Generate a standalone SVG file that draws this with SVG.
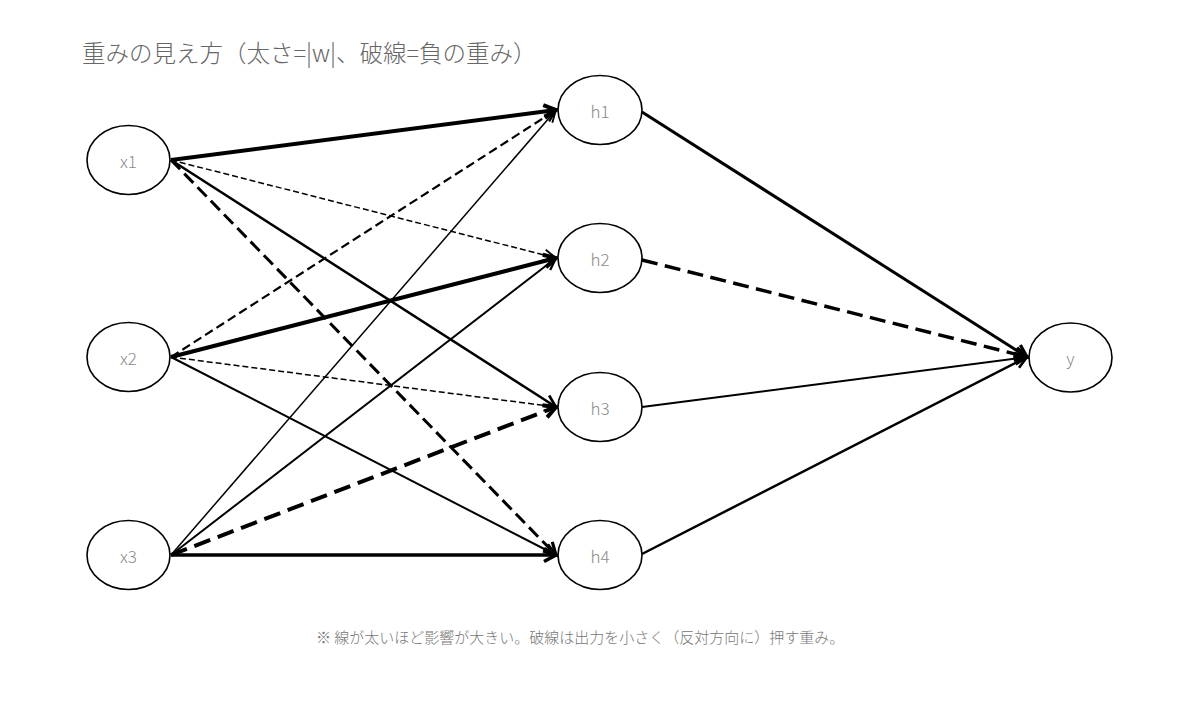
<svg xmlns="http://www.w3.org/2000/svg" width="1200" height="716" viewBox="0 0 1200 716">
<style>
.node ellipse{fill:#fff;stroke:#000;stroke-width:1.6}
.node text{font-family:"Noto Sans CJK JP","Noto Sans",sans-serif;font-weight:300;font-size:17px;fill:#8a8a8a;text-anchor:middle;dominant-baseline:central}
.e{fill:none;stroke:#000;stroke-linecap:butt}
.title{font-family:"Noto Sans CJK JP","Noto Sans",sans-serif;font-weight:300;font-size:23.5px;fill:#666}
.note{font-family:"Noto Sans CJK JP","Noto Sans",sans-serif;font-weight:300;font-size:15px;fill:#777}
</style>
<defs>
<marker id="a15" viewBox="-14 -8 16 16" refX="0" refY="0" markerWidth="16" markerHeight="16" markerUnits="userSpaceOnUse" orient="auto" overflow="visible"><path d="M-12,-5.5 L0,0 L-12,5.5" fill="none" stroke="#000" stroke-width="1.8"/></marker>
<marker id="a2" viewBox="-14 -8 16 16" refX="0" refY="0" markerWidth="16" markerHeight="16" markerUnits="userSpaceOnUse" orient="auto" overflow="visible"><path d="M-12,-6 L0,0 L-12,6" fill="none" stroke="#000" stroke-width="2.3"/></marker>
<marker id="a25" viewBox="-14 -8 16 16" refX="0" refY="0" markerWidth="16" markerHeight="16" markerUnits="userSpaceOnUse" orient="auto" overflow="visible"><path d="M-12,-6 L0,0 L-12,6" fill="none" stroke="#000" stroke-width="2.7"/></marker>
<marker id="a3" viewBox="-14 -8 16 16" refX="0" refY="0" markerWidth="16" markerHeight="16" markerUnits="userSpaceOnUse" orient="auto" overflow="visible"><path d="M-12,-6.5 L0,0 L-12,6.5" fill="none" stroke="#000" stroke-width="3.2"/></marker>
<marker id="a35" viewBox="-14 -8 16 16" refX="0" refY="0" markerWidth="16" markerHeight="16" markerUnits="userSpaceOnUse" orient="auto" overflow="visible"><path d="M-12,-6.5 L0,0 L-12,6.5" fill="none" stroke="#000" stroke-width="3.6"/></marker>
<marker id="a4" viewBox="-14 -8 16 16" refX="0" refY="0" markerWidth="16" markerHeight="16" markerUnits="userSpaceOnUse" orient="auto" overflow="visible"><path d="M-12,-6.5 L0,0 L-12,6.5" fill="none" stroke="#000" stroke-width="4"/></marker>
</defs>
<rect width="1200" height="716" fill="#fff"/>
<text class="title" x="82" y="62">重みの見え方（太さ=|w|、破線=負の重み）</text>
<g id="connectors">
<line class="e" x1="171" y1="160" x2="556" y2="110" stroke-width="4" marker-end="url(#a4)"/>
<line class="e" x1="171" y1="160" x2="556" y2="258" stroke-width="1.5" stroke-dasharray="6 3" marker-end="url(#a15)"/>
<line class="e" x1="171" y1="160" x2="556" y2="407" stroke-width="2.5" marker-end="url(#a25)"/>
<line class="e" x1="171" y1="160" x2="556" y2="555" stroke-width="3" stroke-dasharray="13 6" marker-end="url(#a3)"/>
<line class="e" x1="171" y1="357" x2="556" y2="110" stroke-width="2.2" stroke-dasharray="9 4.5" marker-end="url(#a2)"/>
<line class="e" x1="171" y1="357" x2="556" y2="258" stroke-width="4" marker-end="url(#a4)"/>
<line class="e" x1="171" y1="357" x2="556" y2="407" stroke-width="1.5" stroke-dasharray="6 3" marker-end="url(#a15)"/>
<line class="e" x1="171" y1="357" x2="556" y2="555" stroke-width="2" marker-end="url(#a2)"/>
<line class="e" x1="171" y1="555" x2="556" y2="110" stroke-width="1.5" marker-end="url(#a15)"/>
<line class="e" x1="171" y1="555" x2="556" y2="258" stroke-width="2" marker-end="url(#a2)"/>
<line class="e" x1="171" y1="555" x2="556" y2="407" stroke-width="4" stroke-dasharray="17 8" marker-end="url(#a4)"/>
<line class="e" x1="171" y1="555" x2="556" y2="555" stroke-width="3.5" marker-end="url(#a35)"/>
<line class="e" x1="642" y1="112" x2="1027" y2="357" stroke-width="3" marker-end="url(#a3)"/>
<line class="e" x1="642" y1="260" x2="1027" y2="357" stroke-width="3.5" stroke-dasharray="16 7.5" marker-end="url(#a35)"/>
<line class="e" x1="642" y1="407" x2="1027" y2="357" stroke-width="2" marker-end="url(#a2)"/>
<line class="e" x1="642" y1="554" x2="1027" y2="357" stroke-width="2.5" marker-end="url(#a25)"/>
</g>
<g id="x1" class="node"><ellipse cx="128.5" cy="160" rx="41.5" ry="34.5"/><text x="128.5" y="160">x1</text></g>
<g id="x2" class="node"><ellipse cx="128.5" cy="357" rx="41.5" ry="34.5"/><text x="128.5" y="357">x2</text></g>
<g id="x3" class="node"><ellipse cx="128.5" cy="555" rx="41.5" ry="34.5"/><text x="128.5" y="555">x3</text></g>
<g id="h1" class="node"><ellipse cx="600" cy="110" rx="42" ry="34.5"/><text x="600" y="110">h1</text></g>
<g id="h2" class="node"><ellipse cx="600" cy="258" rx="42" ry="34.5"/><text x="600" y="258">h2</text></g>
<g id="h3" class="node"><ellipse cx="600" cy="407" rx="42" ry="34.5"/><text x="600" y="407">h3</text></g>
<g id="h4" class="node"><ellipse cx="600" cy="555" rx="42" ry="34.5"/><text x="600" y="555">h4</text></g>
<g id="y" class="node"><ellipse cx="1070.5" cy="357.5" rx="41.5" ry="34.5"/><text x="1070.5" y="357.5">y</text></g>
<text class="note" x="316" y="643">※ 線が太いほど影響が大きい。破線は出力を小さく（反対方向に）押す重み。</text>
</svg>
